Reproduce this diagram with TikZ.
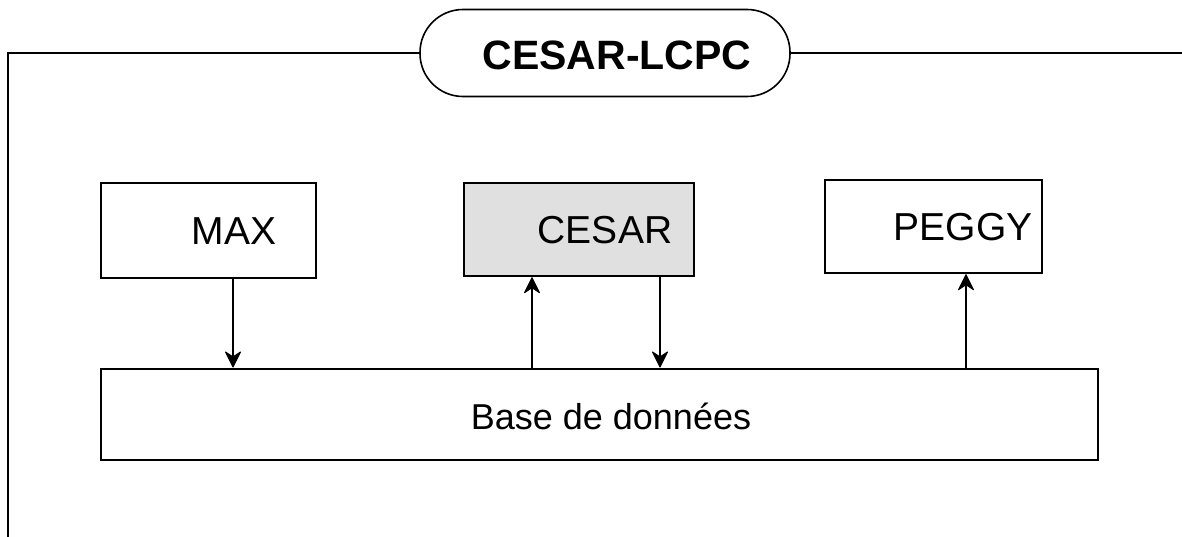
\documentclass[tikz,border=0pt]{standalone}
\usepackage{fontspec}
\setmainfont{Liberation Sans}
\tikzset{
  box/.style={draw=black,line width=1.7pt,inner sep=0pt,anchor=north west},
  lbl/.style={inner sep=0pt,font=\fontsize{39}{44}\selectfont},
  arr/.style={line width=1.4pt},
  headfill/.style={fill=black,draw=black,line width=1pt,line join=round},
  frame/.style={line width=1.8pt}}
\begin{document}
\begin{tikzpicture}[x=1pt,y=-1pt]
\useasboundingbox (0,0) rectangle (1182,537);
% title
\node[draw=black,line width=1.6pt,rounded corners=43pt,minimum width=370pt,minimum height=87pt,inner sep=0pt] (title) at (605,53) {};
\node[inner sep=0pt,font=\fontsize{41}{46}\selectfont\bfseries] (titletext) at (617,55) {CESAR-LCPC};
\coordinate (fl) at (8,53);
\coordinate (flb) at (8,537);
\coordinate (fr) at (1182,53);
\draw[frame] (title.west) -- (fl) -- (flb);
\draw[frame] (title.east) -- (fr);
% boxes
\node[box,minimum width=215pt,minimum height=95pt] (max) at (100,182) {};
\node[box,fill={rgb,255:red,224;green,224;blue,224},minimum width=230pt,minimum height=93pt] (cesar) at (463,182) {};
\node[box,minimum width=217pt,minimum height=93pt] (peggy) at (824,179) {};
\node[box,minimum width=997pt,minimum height=91pt] (base) at (100,368) {};
% labels
\node[lbl] (maxt) at (234,231) {MAX};
\node[lbl] (cesart) at (605,230) {CESAR};
\node[lbl] (peggyt) at (963,227) {PEGGY};
\node[inner sep=0pt,font=\fontsize{36}{40}\selectfont] (baset) at (611,416) {Base de données};
% arrows
\coordinate (a1) at (233,0);
\coordinate (a2) at (532,0);
\coordinate (a3) at (660,0);
\coordinate (a4) at (966,0);
\draw[arr] (max.south -| a1) -- ([yshift=8pt]base.north -| a1);
\draw[arr] (base.north -| a2) -- ([yshift=-8pt]cesar.south -| a2);
\draw[arr] (cesar.south -| a3) -- ([yshift=8pt]base.north -| a3);
\draw[arr] (base.north -| a4) -- ([yshift=-8pt]peggy.south -| a4);
% arrow heads (down)
\filldraw[headfill] ([yshift=1pt]base.north -| a1) -- ++(-7.5,-15) -- ++(7.5,5) -- ++(7.5,-5) -- cycle;
\filldraw[headfill] ([yshift=1pt]base.north -| a3) -- ++(-7.5,-15) -- ++(7.5,5) -- ++(7.5,-5) -- cycle;
% arrow heads (up)
\filldraw[headfill] ([yshift=-1pt]cesar.south -| a2) -- ++(-7.5,15) -- ++(7.5,-5) -- ++(7.5,5) -- cycle;
\filldraw[headfill] ([yshift=-1pt]peggy.south -| a4) -- ++(-7.5,15) -- ++(7.5,-5) -- ++(7.5,5) -- cycle;
\end{tikzpicture}
\end{document}
